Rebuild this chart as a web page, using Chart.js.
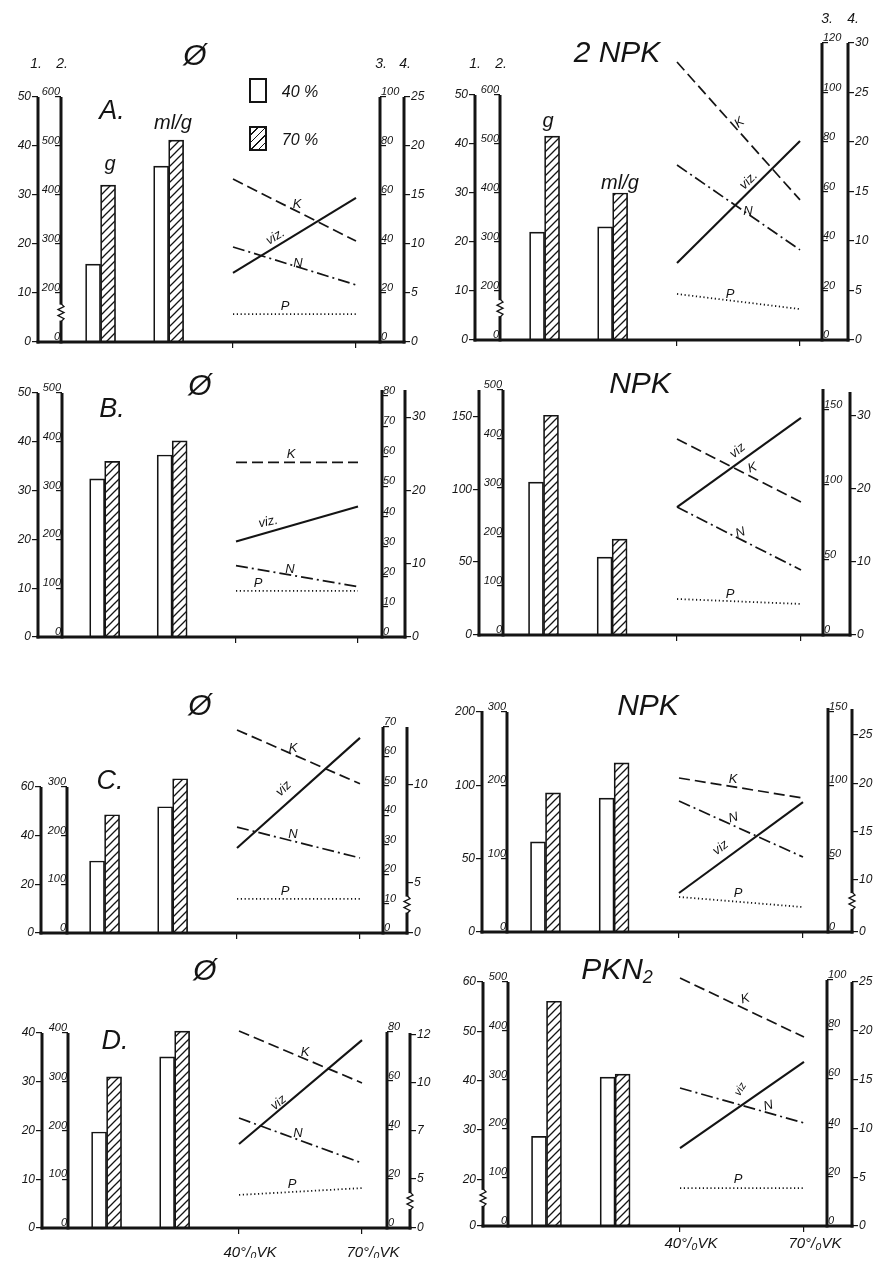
<!DOCTYPE html>
<html>
<head>
<meta charset="utf-8">
<script src="https://cdn.jsdelivr.net/npm/chart.js@4.4.1/dist/chart.umd.min.js"></script>
<style>
  body { margin: 0; background: #fff; }
  #sheet { position: relative; width: 880px; height: 1262px; overflow: hidden;
           font-family: 'Liberation Sans', 'DejaVu Sans', sans-serif; font-style: italic; color: #141414; }
  #sheet canvas { position: absolute; }
  .note { position: absolute; white-space: nowrap; line-height: 1; }
  .note sub { font-size: 0.6em; vertical-align: -0.25em; }
  .key { position: absolute; width: 18px; height: 25px; border: 2px solid #141414; box-sizing: border-box; background: #fff; }
  .key.hatched { background: repeating-linear-gradient(135deg, #fff 0 4px, #141414 4px 5.3px); }
</style>
</head>
<body>
<div id="sheet"></div>
<script>
// values, one entry per panel:
// A-Ø, A-2NPK, B-Ø, B-NPK, C-Ø, C-NPK, D-Ø, D-PKN2
const titles = ['Ø', '2 NPK', 'Ø', 'NPK', 'Ø', 'NPK', 'Ø', 'PKN<sub>2</sub>'];
const letters = ['A.', '', 'B.', '', 'C.', '', 'D.', ''];
const groups = ['g', 'ml/g'];
const seriesNames = ['40 %', '70 %'];
const vk = [40, 70];
const vkLabels = ['40°/₀VK', '70°/₀VK'];
const vizNames = ['viz.', 'viz.', 'viz.', 'viz', 'viz', 'viz', 'viz', 'viz'];

// bars, in units of axis 1 (g, ml/g)
const bar40 = [[15.9, 35.9], [22, 23.1], [32.4, 37.3], [104.8, 53.4], [29.6, 51.9], [61.4, 91.3], [19.7, 35.1], [28.7, 40.7]];
const bar70 = [[32, 41.2], [41.6, 30], [36, 40.2], [150.7, 65.8], [48.6, 63.4], [94.8, 115.2], [31, 40.4], [56.1, 41.3]];

// lines at 40 and 70 %VK, in units of axis 3
const lineK = [[66.5, 41.2], [112.3, 56.6], [58, 58], [130.7, 88.7], [69, 50.7], [105, 91.3], [80.4, 59.2], [100.8, 76.8]];
const lineViz = [[28.2, 58.8], [31.1, 80.4], [31.7, 43.3], [85.3, 144.7], [28.9, 66.3], [26.6, 88.6], [34.3, 76.7], [31.7, 66.7]];
const lineN = [[38.8, 23.3], [70.7, 36.4], [23.7, 16.7], [85.3, 43.3], [36, 25.5], [89.3, 51.1], [44.9, 26.5], [56.1, 41.9]];
const lineP = [[11.4, 11.4], [18.6, 12.5], [15.3, 15.3], [24, 20.7], [11.6, 11.6], [23.9, 17], [13.5, 16.3], [15.4, 15.4]];

// axis ranges [value at the base line, value at the top end of the axis line]
const range1 = [[0, 50], [0, 50], [0, 50], [0, 168], [0, 60], [0, 150.6], [0, 40], [10.5, 60]];
const range2 = [[100, 600], [100, 600], [0, 500], [0, 500], [0, 300], [0, 300], [0, 400], [0, 500]];
const range3 = [[0, 100], [0, 120], [0, 82], [0, 164], [0, 70], [0, 152.7], [0, 80], [0, 100]];
const range4 = [[0, 25], [0, 30], [0, 33.7], [0, 33.3], [2.45, 12.96], [4.6, 27.7], [2.45, 12.6], [0, 25]];

// tick values and the labels printed at them
const ticks1 = [[0, 10, 20, 30, 40, 50], [0, 10, 20, 30, 40, 50], [0, 10, 20, 30, 40, 50], [0, 50, 100, 150],
                [0, 20, 40, 60], [0, 50, 100, 150], [0, 10, 20, 30, 40], [10.5, 20, 30, 40, 50, 60]];
const labels1 = [null, null, null, null, null, ['0', '50', '100', '200'], null, ['0', '20', '30', '40', '50', '60']];
const ticks2 = [[100, 200, 300, 400, 500, 600], [100, 200, 300, 400, 500, 600], [0, 100, 200, 300, 400, 500], [0, 100, 200, 300, 400, 500],
                [0, 100, 200, 300], [0, 100, 200, 300], [0, 100, 200, 300, 400], [0, 100, 200, 300, 400, 500]];
const labels2 = [['0', '200', '300', '400', '500', '600'], ['0', '200', '300', '400', '500', '600'], null, null, null, null, null, null];
const ticks3 = [[0, 20, 40, 60, 80, 100], [0, 20, 40, 60, 80, 100, 120], [0, 10, 20, 30, 40, 50, 60, 70, 80], [0, 50, 100, 150],
                [0, 10, 20, 30, 40, 50, 60, 70], [0, 50, 100, 150], [0, 20, 40, 60, 80], [0, 20, 40, 60, 80, 100]];
const labels3 = [null, null, null, null, null, null, null, null];
const ticks4 = [[0, 5, 10, 15, 20, 25], [0, 5, 10, 15, 20, 25, 30], [0, 10, 20, 30], [0, 10, 20, 30],
                [2.45, 5, 10], [4.6, 10, 15, 20, 25], [2.45, 5, 7.5, 10, 12.5], [0, 5, 10, 15, 20, 25]];
const labels4 = [null, null, null, null, ['0', '5', '10'], ['0', '10', '15', '20', '25'], ['0', '5', '7', '10', '12'], null];

// axis breaks [axis index, value]
const breaks = [[[1, 160]], [[1, 165]], [], [], [[3, 3.9]], [[3, 7.8]], [[3, 3.85]], [[0, 16.2]]];

// ---- layout of the sheet (page pixels) ----
const ink = '#141414';
const fontFam = "'Liberation Sans', 'DejaVu Sans', sans-serif";
const groupX = [7.7, 24.3]; // bar group centres on the %VK scale
const geo = [
  { box: [0, 0, 440, 380],    ax: [38, 61, 380, 404],  tops: [97, 97, 97, 97],       base: 342,  x40: 233, x70: 356, xPad: 4,  title: [195, 55],  letter: [112, 110] },
  { box: [425, 0, 455, 380],  ax: [475, 500, 822, 848], tops: [95, 95, 43, 43],      base: 340,  x40: 677, x70: 800, xPad: 4,  title: [617, 52] },
  { box: [0, 350, 440, 330],  ax: [38, 62, 382, 405],  tops: [393, 393, 390, 390],   base: 637,  x40: 236, x70: 358, xPad: 4,  title: [200, 385], letter: [112, 408] },
  { box: [425, 350, 455, 330], ax: [479, 503, 823, 850], tops: [390, 390, 389, 392], base: 635,  x40: 677, x70: 801, xPad: 4,  title: [640, 383] },
  { box: [0, 650, 440, 320],  ax: [41, 67, 383, 407],  tops: [787, 787, 727, 727],   base: 933,  x40: 237, x70: 360, xPad: 4,  title: [200, 705], letter: [110, 780] },
  { box: [425, 650, 455, 320], ax: [482, 507, 828, 852], tops: [711, 712, 708, 709], base: 932,  x40: 679, x70: 803, xPad: 4,  title: [648, 705] },
  { box: [0, 940, 440, 322],  ax: [42, 68, 387, 410],  tops: [1033, 1033, 1032, 1033], base: 1228, x40: 239, x70: 362, xPad: 10, title: [205, 970], letter: [115, 1040] },
  { box: [425, 940, 455, 322], ax: [483, 508, 827, 852], tops: [982, 982, 980, 982], base: 1226, x40: 680, x70: 804, xPad: 3,  title: [617, 970] }
];
// where the line names sit: [K, viz, N, P] as [x, y, rotation]
const lineNameAt = [
  [[297, 203, 0], [275, 236, -31], [298, 262, 0], [285, 305, 0]],
  [[739, 122, -38], [748, 180, -45], [748, 210, 0], [730, 293, 0]],
  [[291, 453, 0], [268, 521, -12], [290, 568, 0], [258, 582, 0]],
  [[752, 467, -20], [737, 450, -40], [740, 532, -20], [730, 593, 0]],
  [[293, 747, 0], [283, 788, -45], [293, 833, 0], [285, 890, 0]],
  [[733, 778, 0], [720, 847, -38], [733, 817, -15], [738, 892, 0]],
  [[305, 1051, 0], [278, 1102, -40], [298, 1132, 0], [292, 1183, 0]],
  [[745, 998, -15], [740, 1089, -60], [768, 1105, -15], [738, 1178, 0]]
];

const sheet = document.getElementById('sheet');
const axisIds = ['y1', 'y2', 'y3', 'y4'];
const ranges = [range1, range2, range3, range4];
const tickVals = [ticks1, ticks2, ticks3, ticks4];
const tickLabs = [labels1, labels2, labels3, labels4];

function note(html, x, y, size, rot) {
  const el = document.createElement('div');
  el.className = 'note';
  el.innerHTML = html;
  el.style.left = x + 'px';
  el.style.top = y + 'px';
  el.style.fontSize = size + 'px';
  el.style.transform = 'translate(-50%, -50%) rotate(' + (rot || 0) + 'deg)';
  sheet.appendChild(el);
}

function hatch(ctx) {
  const c = document.createElement('canvas');
  c.width = c.height = 8;
  const g = c.getContext('2d');
  g.fillStyle = '#fff';
  g.fillRect(0, 0, 8, 8);
  g.strokeStyle = ink;
  g.lineWidth = 1.3;
  g.beginPath();
  g.moveTo(0, 8); g.lineTo(8, 0);
  g.moveTo(-2, 2); g.lineTo(2, -2);
  g.moveTo(6, 10); g.lineTo(10, 6);
  g.stroke();
  return ctx.createPattern(c, 'repeat');
}

// thick axis lines, base line and the little zig-zag breaks
function framePlugin(p) {
  return {
    id: 'frame',
    afterDraw(chart) {
      const { ctx, chartArea, scales } = chart;
      const base = chartArea.bottom;
      ctx.save();
      ctx.strokeStyle = ink;
      ctx.lineWidth = 3;
      ctx.beginPath();
      ctx.moveTo(scales.y1.right - 1.5, base);
      ctx.lineTo(scales.y4.left + 1.5, base);
      ctx.stroke();
      axisIds.forEach((id, k) => {
        const s = scales[id];
        const x = k < 2 ? s.right : s.left;
        ctx.beginPath();
        ctx.moveTo(x, base + 1.5);
        ctx.lineTo(x, s.getPixelForValue(ranges[k][p][1]));
        ctx.stroke();
      });
      breaks[p].forEach(([k, v]) => {
        const s = scales[axisIds[k]];
        const x = k < 2 ? s.right : s.left;
        const y = s.getPixelForValue(v);
        ctx.fillStyle = '#fff';
        ctx.fillRect(x - 3, y - 8, 6, 16);
        ctx.lineWidth = 1.3;
        ctx.beginPath();
        ctx.moveTo(x, y - 9);
        [[3, -6], [-3, -3], [3, 0], [-3, 3], [3, 6], [0, 9]].forEach(([dx, dy]) => ctx.lineTo(x + dx, y + dy));
        ctx.stroke();
      });
      ctx.restore();
    }
  };
}

function yScale(p, k, chartTop) {
  const g = geo[p];
  const [lo, hi] = ranges[k][p];
  const max = lo + (hi - lo) * (g.base - chartTop) / (g.base - g.tops[k]);
  const vals = tickVals[k][p];
  const labs = tickLabs[k][p] || vals.map(String);
  const inner = k === 1 || k === 2;
  const width = k === 0 ? 28 : k === 3 ? 26 : k === 1 ? g.ax[1] - g.ax[0] : g.ax[3] - g.ax[2];
  return {
    type: 'linear',
    position: k < 2 ? 'left' : 'right',
    weight: inner ? 1 : 2,
    min: lo,
    max: max,
    afterBuildTicks: s => { s.ticks = vals.map(v => ({ value: v })); },
    afterFit: s => { s.width = width; },
    border: { display: false },
    grid: { drawOnChartArea: false, color: ink, lineWidth: 1.2, tickLength: 6 },
    ticks: {
      autoSkip: false,
      color: ink,
      padding: inner ? -5 : 1,
      labelOffset: inner ? -5 : 0,
      font: { family: fontFam, style: 'italic', size: inner ? 11 : 12 },
      callback: (v, i) => labs[i]
    }
  };
}

function buildPanel(p) {
  const g = geo[p];
  const [bx, by, bw, bh] = g.box;
  const cv = document.createElement('canvas');
  cv.width = bw;
  cv.height = bh;
  cv.style.left = bx + 'px';
  cv.style.top = by + 'px';
  sheet.appendChild(cv);

  const chartTop = Math.min(...g.tops);
  const unit = 30 / (g.x70 - g.x40);
  const scales = {
    x: {
      type: 'linear',
      offset: false,
      min: 40 - (g.x40 - g.ax[1]) * unit,
      max: 70 + (g.ax[2] - g.x70) * unit,
      afterBuildTicks: s => { s.ticks = vk.map(v => ({ value: v })); },
      afterFit: s => { s.height = 30; },
      border: { display: false },
      grid: { offset: false, drawOnChartArea: false, color: ink, lineWidth: 1.2, tickLength: 6 },
      ticks: {
        autoSkip: false, maxRotation: 0, color: ink, padding: g.xPad, labelOffset: 11,
        font: { family: fontFam, style: 'italic', size: 15 },
        callback: (v, i) => p >= 6 ? vkLabels[i] : ''
      }
    }
  };
  axisIds.forEach((id, k) => { scales[id] = yScale(p, k, chartTop); });

  const ctx = cv.getContext('2d');
  const clip = { left: 6, top: 6, right: 6, bottom: 0 };
  const barStyle = { yAxisID: 'y1', borderColor: ink, borderWidth: 1.7, barThickness: 15, borderSkipped: 'start', clip: clip };
  const lineStyle = { type: 'line', yAxisID: 'y3', borderColor: ink, pointRadius: 0, fill: false, tension: 0, clip: clip };
  const pts = arr => vk.map((v, i) => ({ x: v, y: arr[i] }));

  new Chart(ctx, {
    type: 'bar',
    data: {
      datasets: [
        { ...barStyle, label: seriesNames[0], backgroundColor: '#fff', data: groups.map((n, i) => ({ x: groupX[i], y: bar40[p][i] })) },
        { ...barStyle, label: seriesNames[1], backgroundColor: hatch(ctx), data: groups.map((n, i) => ({ x: groupX[i], y: bar70[p][i] })) },
        { ...lineStyle, label: 'K', borderWidth: 1.7, borderDash: [11, 5], data: pts(lineK[p]) },
        { ...lineStyle, label: vizNames[p], borderWidth: 2.1, data: pts(lineViz[p]) },
        { ...lineStyle, label: 'N', borderWidth: 1.7, borderDash: [12, 4, 2, 4], data: pts(lineN[p]) },
        { ...lineStyle, label: 'P', borderWidth: 1.8, borderDash: [1.2, 2.6], data: pts(lineP[p]) }
      ]
    },
    options: {
      responsive: false,
      devicePixelRatio: 1,
      animation: false,
      events: [],
      layout: {
        padding: {
          left: g.ax[0] - 28 - bx,
          right: bx + bw - (g.ax[3] + 26),
          top: chartTop - by,
          bottom: by + bh - g.base - 30
        }
      },
      plugins: { legend: { display: false }, tooltip: { enabled: false } },
      scales: scales
    },
    plugins: [framePlugin(p)]
  });

  note(titles[p], g.title[0], g.title[1], 30);
  if (letters[p]) note(letters[p], g.letter[0], g.letter[1], 27);
  ['K', vizNames[p], 'N', 'P'].forEach((t, i) => {
    const [x, y, r] = lineNameAt[p][i];
    note(t, x, y, p === 7 && i === 1 ? 11 : 13, r);
  });
}

for (let p = 0; p < geo.length; p++) buildPanel(p);

// axis numbers and bar labels of the top row, legend
[['1.', 36, 63], ['2.', 62, 63], ['3.', 381, 63], ['4.', 405, 63],
 ['1.', 475, 63], ['2.', 501, 63], ['3.', 827, 18], ['4.', 853, 18]].forEach(([t, x, y]) => note(t, x, y, 14));
note(groups[0], 110, 163, 20);
note(groups[1], 173, 122, 20);
note(groups[0], 548, 120, 20);
note(groups[1], 620, 182, 20);

[[78, ''], [126, ' hatched']].forEach(([top, cls], i) => {
  const k = document.createElement('div');
  k.className = 'key' + cls;
  k.style.left = '249px';
  k.style.top = top + 'px';
  sheet.appendChild(k);
  note(seriesNames[i], 300, top + 14, 16);
});
</script>
</body>
</html>
